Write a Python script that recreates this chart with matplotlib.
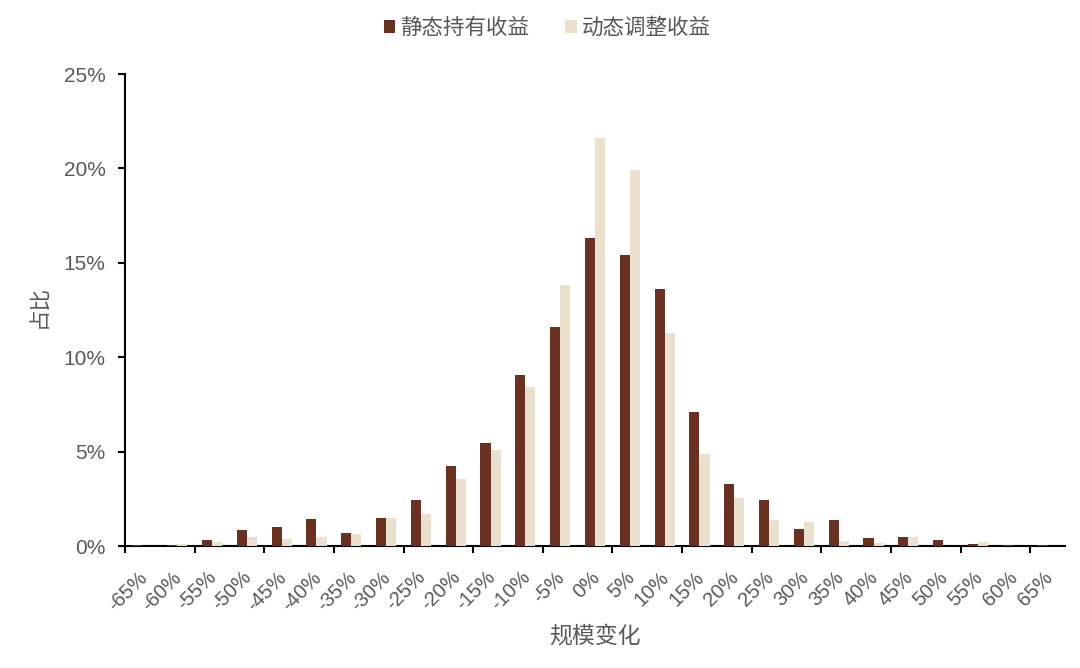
import matplotlib
matplotlib.use("Agg")
import matplotlib.pyplot as plt
import matplotlib.transforms as mtrans
import numpy as np

categories = ["-65%", "-60%", "-55%", "-50%", "-45%", "-40%", "-35%", "-30%", "-25%",
              "-20%", "-15%", "-10%", "-5%", "0%", "5%", "10%", "15%", "20%", "25%",
              "30%", "35%", "40%", "45%", "50%", "55%", "60%", "65%"]
static_vals = [0.03, 0.03, 0.30, 0.83, 0.99, 1.41, 0.71, 1.48, 2.44,
               4.24, 5.44, 9.07, 11.6, 16.3, 15.4, 13.6, 7.1, 3.3, 2.42,
               0.88, 1.37, 0.42, 0.49, 0.30, 0.12, 0.03, 0.03]
dynamic_vals = [0.0, 0.12, 0.20, 0.48, 0.39, 0.48, 0.65, 1.48, 1.68,
                3.53, 5.07, 8.42, 13.8, 21.6, 19.9, 11.3, 4.87, 2.55, 1.39,
                1.25, 0.26, 0.16, 0.46, 0.0, 0.20, 0.02, 0.0]
series_names = ["静态持有收益", "动态调整收益"]
yticks = [0, 5, 10, 15, 20, 25]

dark = "#6A3022"
light = "#EBE0CD"
grey = "#595959"
num_font = ["Liberation Sans", "Noto Sans CJK SC"]
cjk_font = ["Noto Sans CJK SC", "DejaVu Sans"]
plt.rcParams["font.family"] = num_font

fig = plt.figure(figsize=(10.8, 6.68), dpi=100)
ax = fig.add_axes([125/1080, 1-546/668, (1065-125)/1080, (546-74)/668])

x = np.arange(len(categories))
w = 0.29
b1 = ax.bar(x, static_vals, width=-w, align="edge", color=dark, label=series_names[0], zorder=3)
b2 = ax.bar(x, dynamic_vals, width=w, align="edge", color=light, label=series_names[1], zorder=3)

ax.set_xlim(-0.5, len(categories) - 0.5)
ax.set_ylim(0, 25)
ax.set_yticks(yticks)
ax.set_yticklabels([f"{v}%" for v in yticks], fontsize=15, color=grey)
ax.set_xticks(x)
ax.set_xticklabels(categories, rotation=45, ha="right", rotation_mode="anchor",
                   fontsize=14.5, color=grey)
ax.tick_params(axis="x", which="major", length=0, pad=12)
off = mtrans.ScaledTranslation(-5/100, -5/100, fig.dpi_scale_trans)
for lbl in ax.get_xticklabels():
    lbl.set_transform(lbl.get_transform() + off)
ax.set_xticks(np.arange(-0.5, len(categories) - 1, 2), minor=True)
ax.tick_params(axis="x", which="minor", length=5, width=1.5, color="black", direction="out")
ax.tick_params(axis="y", length=5, width=1.5, color="black", direction="out", pad=9)

for s in ["top", "right"]:
    ax.spines[s].set_visible(False)
for s in ["left", "bottom"]:
    ax.spines[s].set_linewidth(1.5)
    ax.spines[s].set_color("black")

ax.set_ylabel("占比", fontsize=15.5, color=grey, family=cjk_font)
ax.yaxis.set_label_coords(39/1080, 1-306/668, transform=fig.transFigure)
ax.set_xlabel("规模变化", fontsize=16.5, color=grey, family=cjk_font)
ax.xaxis.set_label_coords(595/1080, 1-636/668, transform=fig.transFigure)
ax.xaxis.label.set_va("center")
ax.yaxis.label.set_va("center")

leg = fig.legend(handles=[b1, b2], labels=series_names, loc="center",
                 bbox_to_anchor=(547/1080, 1-28/668), ncol=2, frameon=False,
                 prop={"family": cjk_font, "size": 15.5}, handlelength=0.55,
                 handleheight=0.55, handletextpad=0.2, columnspacing=1.7)
for t in leg.get_texts():
    t.set_color(grey)

fig.savefig("out.png", dpi=100)
